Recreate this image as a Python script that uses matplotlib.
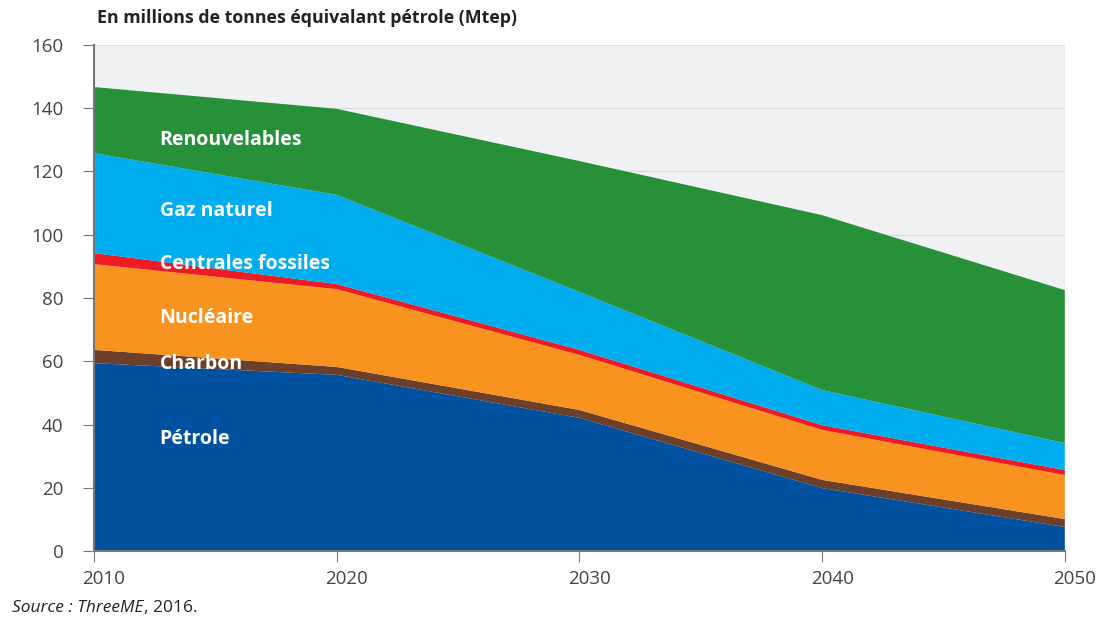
import numpy as np
import matplotlib.pyplot as plt
import matplotlib.transforms as mtransforms

annees = [2010, 2020, 2030, 2040, 2050]
petrole = [59.4, 55.7, 42.1, 19.9, 7.6]
charbon = [4.2, 2.5, 2.5, 2.6, 2.5]
nucleaire = [27.1, 24.6, 17.4, 15.8, 13.9]
centrales_fossiles = [3.5, 1.6, 1.6, 1.5, 1.6]
gaz_naturel = [31.6, 28.2, 18.3, 11.1, 8.5]
renouvelables = [20.9, 27.2, 41.4, 55.3, 48.4]

series = [petrole, charbon, nucleaire, centrales_fossiles, gaz_naturel, renouvelables]
noms = ["Pétrole", "Charbon", "Nucléaire", "Centrales fossiles", "Gaz naturel", "Renouvelables"]
couleurs = ["#0052a1", "#6b3f2a", "#f7931e", "#ed1c24", "#00aeef", "#27913a"]
pos_labels = [35.3, 59.2, 73.6, 90.6, 107.6, 130]

plt.rcParams['font.family'] = ['Open Sans', 'DejaVu Sans']

fig = plt.figure(figsize=(11, 6.22), dpi=100)
ax = fig.add_axes([0.0855, 0.1141, 0.8825, 0.8136])
ax.set_facecolor("#f0f1f3")

ax.stackplot(annees, *series, colors=couleurs, linewidth=0)

for nom, y in zip(noms, pos_labels):
    ax.text(2012.7, y, nom, color="white", fontsize=14, fontweight="bold", va="center", ha="left")

ax.set_xlim(2010, 2050)
ax.set_ylim(0, 160)
ax.set_yticks(np.arange(0, 161, 20))
ax.set_xticks(annees)
ax.yaxis.grid(True, color="#dcdcdc", linewidth=1)
ax.set_axisbelow(True)

for s in ["top", "right"]:
    ax.spines[s].set_visible(False)
for s in ["left", "bottom"]:
    ax.spines[s].set_color("#777777")
    ax.spines[s].set_linewidth(1.5)
    ax.spines[s].set_zorder(5)

ax.tick_params(axis="y", length=8, color="#777777", labelsize=13.5, labelcolor="#444444", pad=14)
ax.tick_params(axis="x", length=8, color="#777777", labelsize=13.5, labelcolor="#444444", pad=6)

# les libelles des annees sont un peu decales vers la droite
decalage = mtransforms.ScaledTranslation(0.1, 0, fig.dpi_scale_trans)
for lab in ax.get_xticklabels():
    lab.set_transform(lab.get_transform() + decalage)

fig.text(0.088, 0.971, "En millions de tonnes équivalant pétrole (Mtep)", fontsize=12.8, fontweight="bold", color="#222222", va="center")
src = fig.text(0.011, 0.0225, "Source : ThreeME", fontsize=12.5, style="italic", color="#222222", va="center")
fig.canvas.draw()
bb = src.get_window_extent()
fig.text(bb.x1 / fig.bbox.width, 0.0225, ", 2016.", fontsize=12.5, color="#222222", va="center")

fig.savefig("out.png", dpi=100)
